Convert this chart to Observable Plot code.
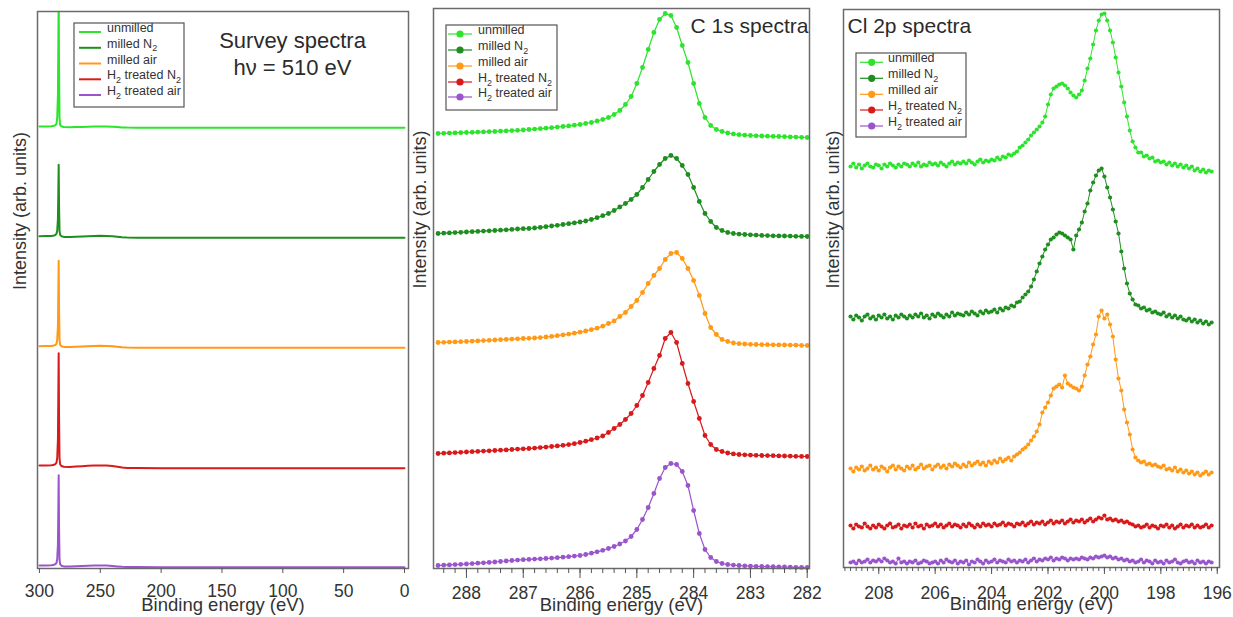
<!DOCTYPE html>
<html><head><meta charset="utf-8">
<script src="https://cdn.jsdelivr.net/npm/d3@7"></script>
<script src="https://cdn.jsdelivr.net/npm/@observablehq/plot@0.6"></script>
<style>
html,body{margin:0;padding:0;background:#fff;}
#chart{position:relative;width:1233px;height:617px;overflow:hidden;background:#fff;font-family:"Liberation Sans",Arial,sans-serif;color:#333;}
</style></head><body><div id="chart"></div>
<script>
// ---------- series ----------
const seriesNames = ["unmilled", "milled N2", "milled air", "H2 treated N2", "H2 treated air"];
const seriesColors = ["#2de42d", "#1e8e1e", "#ff9916", "#d91a1a", "#9a55cc"];

// ---------- Survey spectra (hv = 510 eV) ----------
const surveyEnergy = [300, 295, 290, 288, 287, 286, 285.4, 284.8, 284.5, 284.2, 283.9, 283.5, 283.0, 282, 280, 275, 270, 265, 260, 255, 250, 245, 240, 236, 232, 228, 220, 200, 150, 100, 50, 0];
const surveyUnmilled = [1.3, 1.4, 1.6, 2.0, 2.6, 4, 10, 33, 80, 135, 60, 10, 3, 1.5, 0.8, 0.6, 0.7, 0.9, 1.1, 1.3, 1.4, 1.3, 1.1, 0.7, 0.4, 0.2, 0.1, 0, 0, 0, 0, 0];
const surveyMilledN2 = [1.6, 1.7, 1.9, 2.3, 2.8, 4, 7, 19, 44, 73, 33, 7, 3, 1.6, 0.9, 0.8, 1.0, 1.3, 1.6, 1.9, 2.0, 1.9, 1.6, 1.0, 0.5, 0.2, 0.1, 0, 0, 0, 0, 0];
const surveyMilledAir = [1.6, 1.7, 1.9, 2.3, 2.9, 4, 8, 22, 52, 87, 39, 8, 3, 1.6, 0.9, 0.8, 1.0, 1.3, 1.6, 1.9, 2.0, 1.9, 1.6, 1.0, 0.5, 0.2, 0.1, 0, 0, 0, 0, 0];
const surveyH2N2 = [2.7, 2.8, 3.0, 3.4, 4, 5.5, 10, 29, 69, 115, 52, 10, 4, 2.2, 1.4, 1.3, 1.6, 2.0, 2.4, 2.7, 2.8, 2.6, 2.2, 1.4, 0.7, 0.3, 0.1, 0, 0, 0, 0, 0];
const surveyH2Air = [1.7, 1.8, 2.0, 2.4, 3.0, 4.2, 8, 23, 55, 92, 41, 8, 3, 1.5, 0.8, 0.7, 0.9, 1.1, 1.4, 1.6, 1.7, 1.6, 1.3, 0.8, 0.4, 0.2, 0.1, 0, 0, 0, 0, 0];
const surveyOffsets = [440.7, 330.7, 220.7, 100.3, 1.3];
const surveyTicks = [300, 250, 200, 150, 100, 50, 0];

// ---------- C 1s spectra: 288.5 -> 282.0 eV, 0.1 eV steps ----------
const c1sStart = 288.5, c1sStep = 0.1;
const c1sUnmilled = [4.0,4.2,4.4,4.6,4.8,5.0,5.2,5.4,5.6,5.8, 6.0,6.3,6.6,6.9,7.2,7.5,8.0,8.4,8.8,9.3, 9.8,10.4,11.0,11.6,12.3,13.0,14,15,16.5,18, 20,23,27,33,41,54,70,88,105,118, 124,122,110,92,75,54,34,20,12,8, 6,4.5,3.5,2.8,2.3,2,1.7,1.5,1.3,1.1, 1,0.8,0.6,0.4,0.2,0];
const c1sMilledN2 = [3.0,3.3,3.6,3.9,4.2,4.5,4.8,5.1,5.4,5.7, 6.0,6.3,6.7,7.1,7.5,7.8,8.0,8.5,9.1,9.8, 10.5,11.2,12.0,12.8,13.6,14.5,15.5,17,18.8,20.8, 23,26,29.5,33,37,42,49,57,65,72, 78,81,78,71,62,49,35,23,15,9, 6,4,3,2.4,2,1.7,1.4,1.1,0.9,0.7, 0.6,0.5,0.4,0.2,0.1,0];
const c1sMilledAir = [3.0,3.2,3.4,3.6,3.8,4.0,4.3,4.6,4.9,5.2, 5.5,5.8,6.1,6.4,6.7,7.0,7.2,7.5,7.9,8.5, 9.1,9.8,10.6,11.4,12.3,13.3,14.5,15.8,17.3,19.3, 22,24.5,29,33,39,45,53,62,70,77, 86,92,93,87,77,65,50,32,18,11, 6,4,2.5,1.8,1.5,1.2,1.0,0.9,0.8,0.7, 0.6,0.5,0.4,0.3,0.1,0];
const c1sH2N2 = [3.0,3.3,3.6,3.9,4.2,4.5,4.8,5.1,5.4,5.7, 6.0,6.3,6.6,7.0,7.4,7.7,8.0,8.4,8.9,9.4, 10.0,10.6,11.2,11.9,12.8,14.0,15.3,16.8,18.5,20.5, 24,28,32,37,43,51,61,74,88,101, 118,124,114,93,73,55,38,21,12,7, 5,3.5,2.6,2,1.7,1.4,1.2,1.0,0.9,0.8, 0.6,0.5,0.4,0.2,0.1,0];
const c1sH2Air = [2.0,2.3,2.6,2.9,3.2,3.5,3.9,4.3,4.7,5.1, 5.5,6.0,6.5,7.0,7.4,7.8,8.1,8.4,8.7,9.0, 9.4,9.8,10.3,10.8,11.4,12.0,13,14.3,15.7,17.2, 19,21,23.5,26.5,31,38,48,60,74,89, 100,104,103,96,82,57,34,18,10,6, 4,3,2.4,2,1.7,1.4,1.2,1,0.9,0.8, 0.6,0.5,0.4,0.2,0.1,0];
const c1sOffsets = [431, 332, 223, 112, 1];
const c1sTicks = [288, 287, 286, 285, 284, 283, 282];

// ---------- Cl 2p spectra: 209.0 -> 196.2 eV, 0.1 eV steps ----------
const clStart = 209.0, clStep = 0.1;
const clUnmilled = [6,9,5,8,4,7,9,6,5,8, 7,4,8,6,9,7,5,8,6,9, 8,6,9,7,10,6,8,7,10,8, 9,7,10,8,6,9,11,8,10,9, 11,9,12,10,8,11,13,10,12,11, 13,12,15,13,16,15,18,17,19,21, 25,27,30,33,37,40,43,46,50,56, 68,78,84,86,88,89,87,84,80,77, 75,78,82,92,104,114,128,142,152,158, 159,152,142,130,115,100,86,70,56,42, 31,25,20,20,16,17,14,15,11,12, 10,11,8,10,7,9,6,8,5,7, 4,6,2,4,1,3,0,2,1];
const clMilledN2 = [7,4,8,6,3,7,9,5,7,4, 8,6,9,5,7,4,8,6,9,7, 5,8,6,9,7,10,6,8,5,9, 7,10,8,6,9,7,11,8,10,9, 8,11,9,12,10,8,12,10,13,11, 12,14,11,15,13,16,15,18,17,21, 22,26,29,32,37,44,52,60,67,74, 79,84,86,89,91,90,88,86,84,74, 88,94,101,112,120,133,141,148,153,155, 147,136,126,114,102,90,72,55,40,30, 24,19,18,15,16,13,14,11,12,10, 9,11,7,9,6,8,5,7,4,3, 5,2,4,1,3,0,2,-1,1];
const clMilledAir = [6,3,7,5,8,4,6,9,5,7, 4,8,6,3,7,9,5,8,6,4, 8,6,9,5,7,10,6,8,9,5, 8,10,7,9,6,10,8,11,9,7, 10,8,12,9,11,13,10,12,9,13, 11,14,12,16,13,15,17,14,18,20, 22,25,27,30,34,38,43,50,62,67, 72,79,86,88,90,87,99,91,89,87, 86,84,88,99,110,118,130,140,158,164, 156,160,150,138,115,96,84,65,52,40, 25,17,14,12,13,10,11,9,10,8, 7,9,5,6,4,7,3,5,2,4, 1,3,0,2,-1,1,3,0,2];
const clH2N2 = [1,-2,2,0,-1,3,0,-2,1,-1, 2,0,-2,1,3,-1,0,2,-2,1, 0,2,-1,3,0,1,-2,2,0,1, 3,0,2,-1,1,3,0,2,1,-1, 2,0,3,1,-1,2,0,3,1,2, 0,3,1,2,4,1,3,2,0,3, 2,4,1,3,5,2,4,3,5,2, 4,6,3,5,4,6,3,5,7,4, 6,5,7,4,6,8,5,7,9,8, 11,7,8,6,7,5,6,4,5,3, 2,0,1,-1,0,2,-1,1,0,-2, 1,0,2,-1,1,-2,0,2,-1,1, 0,2,-1,1,-1,0,2,-1,1];
const clH2Air = [0,1,-1,2,0,1,3,0,2,1, 3,1,4,2,0,1,-1,4,0,1, -1,1,0,2,-1,0,2,1,-1,0, 1,-1,2,0,3,1,0,2,-1,1, 0,2,-2,1,0,3,1,-1,2,0, 1,3,0,2,1,0,3,1,2,0, 2,1,3,0,2,4,1,3,2,4, 3,5,2,4,3,5,4,2,4,3, 4,3,5,4,3,5,4,6,5,6, 7,5,6,4,5,3,4,2,3,1, 2,0,1,3,0,2,1,-1,2,0, 1,-1,2,0,1,3,0,-1,1,2, 0,1,-1,2,0,1,-1,1,0];
const clOffsets = [395, 244, 93, 41, 5];
const clTicks = [208, 206, 204, 202, 200, 198, 196];

// ---------- helpers ----------
function toRows(energies, valuesBySeries, offsets) {
  return seriesNames.flatMap((s, k) =>
    energies.map((e, i) => ({series: s, energy: e, value: offsets[k] + valuesBySeries[k][i]})));
}
const gridEnergies = (start, step, n) => Array.from({length: n}, (_, i) => +(start - i * step).toFixed(2));

const surveyRows = toRows(surveyEnergy, [surveyUnmilled, surveyMilledN2, surveyMilledAir, surveyH2N2, surveyH2Air], surveyOffsets);
const c1sEnergy = gridEnergies(c1sStart, c1sStep, c1sUnmilled.length);
const c1sRows = toRows(c1sEnergy, [c1sUnmilled, c1sMilledN2, c1sMilledAir, c1sH2N2, c1sH2Air], c1sOffsets);
const clEnergy = gridEnergies(clStart, clStep, clUnmilled.length);
const clRows = toRows(clEnergy, [clUnmilled, clMilledN2, clMilledAir, clH2N2, clH2Air], clOffsets);

const FONT = "'Liberation Sans', Arial, sans-serif";
const chart = document.getElementById("chart");
const baseStyle = {background: "transparent", overflow: "visible", color: "#333", fontFamily: FONT};

function place(svg, left) {
  svg.style.position = "absolute";
  svg.style.left = left + "px";
  svg.style.top = "0px";
  chart.appendChild(svg);
}

function axisLabels(yDx) {
  return [
    Plot.text(["Binding energy (eV)"], {frameAnchor: "bottom", dy: 42.5, fontSize: 18.5, fill: "#333", text: d => d}),
    Plot.text(["Intensity (arb. units)"], {frameAnchor: "left", dx: yDx, rotate: -90, fontSize: 18, fill: "#333", text: d => d})
  ];
}

// ---------- Panel 1: survey ----------
const p1 = Plot.plot({
  width: 420, height: 617,
  marginLeft: 37, marginRight: 12, marginTop: 11, marginBottom: 49,
  style: baseStyle,
  x: {domain: [301.6, -3.3], label: null},
  y: {domain: [0, 557], axis: null},
  color: {domain: seriesNames, range: seriesColors},
  marks: [
    Plot.line(surveyRows, {x: "energy", y: "value", z: "series", stroke: "series", strokeWidth: 2, clip: true}),
    Plot.frame({stroke: "#6b6b6b", strokeWidth: 1.5}),
    Plot.axisX({ticks: surveyTicks, tickSize: 5, tickPadding: 11, fontSize: 17.5, tickFormat: d => String(d), stroke: "#555"}),
    ...axisLabels(-17),
    Plot.text(["Survey spectra\nh\u03bd = 510 eV"], {frameAnchor: "top", dx: 69.5, dy: 17, lineAnchor: "top", lineHeight: 1.23, fontSize: 22, fill: "#2b2b2b", text: d => d})
  ]
});
place(p1, 0);

// ---------- Panel 2: C 1s ----------
const p2 = Plot.plot({
  width: 410, height: 617,
  marginLeft: 23, marginRight: 11, marginTop: 8, marginBottom: 49,
  style: baseStyle,
  x: {domain: [288.58, 281.96], label: null},
  y: {domain: [0, 560], axis: null},
  color: {domain: seriesNames, range: seriesColors},
  marks: [
    Plot.line(c1sRows, {x: "energy", y: "value", z: "series", stroke: "series", strokeWidth: 1.2}),
    Plot.dot(c1sRows, {x: "energy", y: "value", fill: "series", r: 2.4}),
    Plot.frame({stroke: "#6b6b6b", strokeWidth: 1.5}),
    Plot.axisX({ticks: d3.range(282, 288.5, 0.2), tickSize: 5, tickFormat: () => "", stroke: "#555"}),
    Plot.axisX({ticks: c1sTicks, tickSize: 10, tickPadding: 8, fontSize: 17.5, tickFormat: d => String(d), stroke: "#555"}),
    ...axisLabels(-13),
    Plot.text(["C 1s spectra"], {frameAnchor: "top-right", dx: -1, dy: 10, lineAnchor: "top", textAnchor: "end", fontSize: 21, fill: "#2b2b2b", text: d => d})
  ]
});
place(p2, 410);

// ---------- Panel 3: Cl 2p ----------
const p3 = Plot.plot({
  width: 418, height: 617,
  marginLeft: 28, marginRight: 14, marginTop: 9, marginBottom: 50,
  style: baseStyle,
  x: {domain: [209.25, 195.92], label: null},
  y: {domain: [0, 558], axis: null},
  color: {domain: seriesNames, range: seriesColors},
  marks: [
    Plot.line(clRows, {x: "energy", y: "value", z: "series", stroke: "series", strokeWidth: 1}),
    Plot.dot(clRows, {x: "energy", y: "value", fill: "series", r: 2.1}),
    Plot.frame({stroke: "#6b6b6b", strokeWidth: 1.5}),
    Plot.axisX({ticks: d3.range(196, 209.3, 0.2), tickSize: 4, tickFormat: () => "", stroke: "#555"}),
    Plot.axisX({ticks: clTicks, tickSize: 7, tickPadding: 12, fontSize: 17.5, tickFormat: d => String(d), stroke: "#555"}),
    ...axisLabels(-10),
    Plot.text(["Cl 2p spectra"], {frameAnchor: "top-left", dx: 4, dy: 9, lineAnchor: "top", textAnchor: "start", fontSize: 21, fill: "#2b2b2b", text: d => d})
  ]
});
place(p3, 815);

// ---------- legends ----------
function addLegend(cfg) {
  const svg = d3.select(chart).append("svg")
    .attr("width", cfg.w + 2).attr("height", cfg.h + 2)
    .style("position", "absolute").style("left", (cfg.x - 1) + "px").style("top", (cfg.y - 1) + "px")
    .style("overflow", "visible");
  svg.append("rect").attr("x", 1).attr("y", 1).attr("width", cfg.w).attr("height", cfg.h)
    .attr("fill", "#fff").attr("stroke", "#555").attr("stroke-width", 1.2);
  seriesNames.forEach((name, i) => {
    const cy = 1 + cfg.rows[i];
    svg.append("line").attr("x1", 1 + cfg.l1).attr("x2", 1 + cfg.l2).attr("y1", cy).attr("y2", cy)
      .attr("stroke", seriesColors[i]).attr("stroke-width", cfg.lw);
    if (cfg.marker != null) svg.append("circle").attr("cx", 1 + cfg.marker).attr("cy", cy).attr("r", 3.6).attr("fill", seriesColors[i]);
    const t = svg.append("text").attr("x", 1 + cfg.tx).attr("y", cy).attr("dy", "0.35em")
      .attr("font-size", cfg.fs).attr("fill", "#333").style("font-family", FONT);
    let shifted = false;
    name.split(/(\d)/).filter(p => p !== "").forEach(part => {
      if (/^\d$/.test(part)) {
        t.append("tspan").attr("dy", shifted ? 0 : 3.5).attr("font-size", cfg.fs * 0.72).text(part);
        shifted = true;
      } else {
        t.append("tspan").attr("dy", shifted ? -3.5 : 0).text(part);
        shifted = false;
      }
    });
  });
}
addLegend({x: 74, y: 23, w: 110, h: 84, rows: [9, 24.8, 40.5, 56.3, 72], l1: 5, l2: 27, lw: 2, marker: null, tx: 33, fs: 12.5});
addLegend({x: 446, y: 25, w: 111, h: 85, rows: [9, 25, 41, 57, 72], l1: 2, l2: 26, lw: 1.2, marker: 14, tx: 32, fs: 12.5});
addLegend({x: 856, y: 53, w: 110, h: 84, rows: [9.3, 25.3, 41.3, 57, 73], l1: 4, l2: 27, lw: 1.2, marker: 15.7, tx: 32, fs: 12.5});
</script></body></html>
